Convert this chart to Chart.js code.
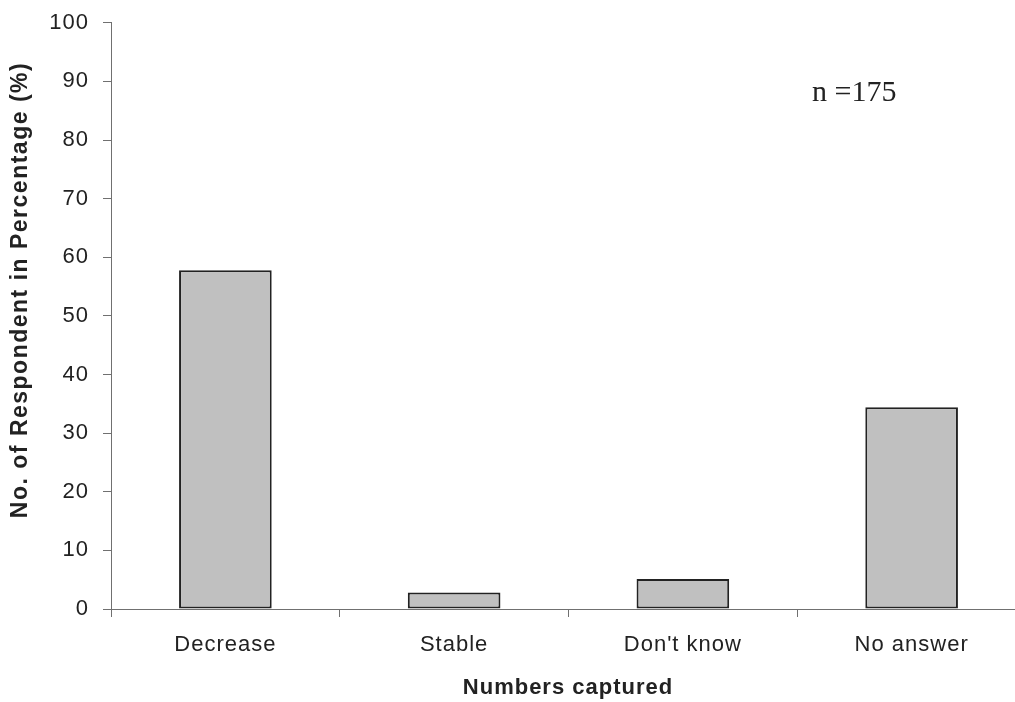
<!DOCTYPE html>
<html>
<head>
<meta charset="utf-8">
<script src="https://cdn.jsdelivr.net/npm/chart.js@4"></script>
<style>
  html, body { margin: 0; padding: 0; background: #fff; overflow: hidden; }
  canvas { display: block; }
</style>
</head>
<body>
<canvas id="chart" width="1030" height="702"></canvas>
<script>
// Datos del gráfico
const categories = ['Decrease', 'Stable', "Don't know", 'No answer'];
const percentages = [57.8, 2.8, 5.1, 34.4];
const yTicks = [0, 10, 20, 30, 40, 50, 60, 70, 80, 90, 100];
const xTitle = 'Numbers captured';
const yTitle = 'No. of Respondent in Percentage (%)';
const note = 'n =175';

const axisColor = '#707070';
const textColor = '#222';
const sansFont = "'Liberation Sans', Arial, sans-serif";

// Espaciado de letras para las etiquetas de los ejes
const spacingPlugin = {
    id: 'spacingPlugin',
    beforeDraw(chart) { chart.ctx.letterSpacing = '1px'; },
    afterDraw(chart) { chart.ctx.letterSpacing = '0px'; }
};

// Títulos y nota dibujados a mano
const textPlugin = {
    id: 'textPlugin',
    afterDraw(chart) {
        const ctx = chart.ctx;
        ctx.save();
        ctx.fillStyle = textColor;
        ctx.textAlign = 'center';
        ctx.textBaseline = 'middle';

        ctx.letterSpacing = '1px';
        ctx.font = 'bold 22px ' + sansFont;
        ctx.fillText(xTitle, 568, 688);

        ctx.save();
        ctx.letterSpacing = '1.5px';
        ctx.font = 'bold 23px ' + sansFont;
        ctx.translate(21, 290);
        ctx.rotate(-Math.PI / 2);
        ctx.fillText(yTitle, 0, 0);
        ctx.restore();

        ctx.letterSpacing = '0px';
        ctx.font = "30px 'Liberation Serif', 'Times New Roman', serif";
        ctx.textAlign = 'left';
        ctx.fillText(note, 812, 93);
        ctx.restore();
    }
};

const ctx = document.getElementById('chart').getContext('2d');
new Chart(ctx, {
    type: 'bar',
    data: {
        labels: categories,
        datasets: [{
            data: percentages,
            backgroundColor: '#c0c0c0',
            borderColor: '#222',
            borderWidth: 2,
            borderSkipped: false,
            barPercentage: 0.405,
            categoryPercentage: 1.0
        }]
    },
    options: {
        responsive: false,
        animation: false,
        layout: {
            padding: { top: 21, right: 4, bottom: 0, left: 0 }
        },
        plugins: {
            legend: { display: false },
            tooltip: { enabled: false }
        },
        scales: {
            x: {
                grid: {
                    offset: true,
                    drawOnChartArea: false,
                    drawTicks: true,
                    tickLength: 8,
                    color: axisColor
                },
                border: { color: axisColor, width: 1 },
                ticks: {
                    color: textColor,
                    padding: 15,
                    font: { family: sansFont, size: 22 }
                },
                afterFit(scale) { scale.height = 93; }
            },
            y: {
                min: 0,
                max: 100,
                afterBuildTicks(scale) {
                    scale.ticks = yTicks.map(v => ({ value: v }));
                },
                grid: {
                    drawOnChartArea: false,
                    drawTicks: true,
                    tickLength: 8,
                    color: axisColor
                },
                border: { color: axisColor, width: 1 },
                ticks: {
                    color: textColor,
                    padding: 14,
                    font: { family: sansFont, size: 22, lineHeight: 0.8 }
                },
                afterFit(scale) { scale.width = 111; }
            }
        }
    },
    plugins: [spacingPlugin, textPlugin]
});
</script>
</body>
</html>
